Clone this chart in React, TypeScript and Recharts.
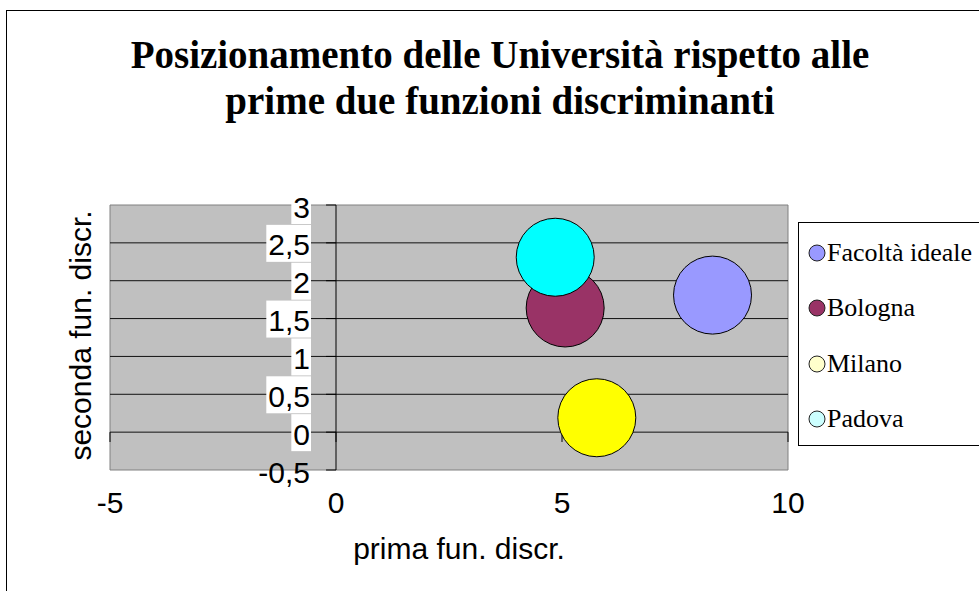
import React from "react";
import {
  ScatterChart,
  Scatter,
  XAxis,
  YAxis,
  ZAxis,
  ReferenceArea,
  ReferenceLine,
  Legend,
} from "recharts";

// series (one bubble each)
const seriesNames = ["Facoltà ideale", "Bologna", "Milano", "Padova"];
const xValues = [8.33, 5.07, 5.77, 4.85];
const yValues = [1.81, 1.64, 0.19, 2.31];
const bubbleSizes = [1, 1, 1, 1];
const bubbleColors = ["#9999FF", "#993366", "#FFFF00", "#00FFFF"];
const legendColors = ["#9999FF", "#993366", "#FFFFCC", "#CCFFFF"];

// axes
const xTicks = [-5, 0, 5, 10];
const yTicks = [-0.5, 0, 0.5, 1, 1.5, 2, 2.5, 3];
const gridValues = [0, 0.5, 1, 1.5, 2, 2.5];

const titleLines = [
  "Posizionamento delle Università rispetto alle",
  "prime due funzioni discriminanti",
];

const SANS = "'Liberation Sans', Arial, sans-serif";
const SERIF = "'Liberation Serif', 'Times New Roman', serif";
const W = 979;
const H = 591;
const BUBBLE_AREA = Math.PI * 39 * 39;
const TICK_X = 0.22; // tick mark length on y axis, data units
const TICK_Y = 0.13; // tick mark length on x axis, data units

const fmt = (v: number) => String(v).replace(".", ",");

const charW: Record<string, number> = { ",": 0.278, "-": 0.333 };
const textWidth = (s: string, size: number) =>
  s.split("").reduce((w, c) => w + (charW[c] ?? 0.556), 0) * size;

const XTick = (props: any) => {
  const { x, payload } = props;
  return (
    <text x={x} y={502} textAnchor="middle" dominantBaseline="central" fontFamily={SANS} fontSize={30} fill="#000">
      {fmt(payload.value)}
    </text>
  );
};

const YTick = (props: any) => {
  const { y, payload } = props;
  const label = fmt(payload.value);
  const right = 310;
  const w = textWidth(label, 30) + 3;
  // the bottom label sits on the plot edge and has no white box
  const boxed = payload.value !== yTicks[0];
  return (
    <g>
      {boxed && <rect x={right + 1 - w} y={y - 18} width={w} height={37} fill="#fff" />}
      <text x={right} y={y + 2} textAnchor="end" dominantBaseline="central" fontFamily={SANS} fontSize={30} fill="#000">
        {label}
      </text>
    </g>
  );
};

const XTitle = (props: any) => {
  const { viewBox } = props;
  return (
    <text x={viewBox.x + viewBox.width / 2 + 10} y={548} textAnchor="middle" dominantBaseline="central" fontFamily={SANS} fontSize={30} fill="#000">
      prima fun. discr.
    </text>
  );
};

const YTitle = (props: any) => {
  const { viewBox } = props;
  const cy = viewBox.y + viewBox.height / 2 - 2;
  return (
    <text x={80} y={cy} transform={`rotate(-90 80 ${cy})`} textAnchor="middle" dominantBaseline="central" fontFamily={SANS} fontSize={30} fill="#000">
      seconda fun. discr.
    </text>
  );
};

const LegendBox = () => (
  <div
    style={{
      width: 200,
      height: 224,
      border: "1px solid #000",
      background: "#fff",
      boxSizing: "border-box",
      paddingTop: 2,
      fontFamily: SERIF,
      fontSize: 26,
      color: "#000",
    }}
  >
    {seriesNames.map((name, i) => (
      <div key={name} style={{ height: 55.5, display: "flex", alignItems: "center", paddingLeft: 9 }}>
        <svg width={18} height={18} style={{ flex: "none" }}>
          <circle cx={9} cy={9} r={8} fill={legendColors[i]} stroke="#222" strokeWidth={1} />
        </svg>
        <span style={{ marginLeft: 1, lineHeight: 1, whiteSpace: "nowrap" }}>{name}</span>
      </div>
    ))}
  </div>
);

export default function App() {
  const series = seriesNames.map((name, i) => ({
    name,
    data: [{ x: xValues[i], y: yValues[i], z: bubbleSizes[i] }],
  }));

  return (
    <div style={{ position: "absolute", left: 0, top: 0, width: W, height: H, overflow: "hidden", background: "#fff" }}>
      <div style={{ position: "absolute", left: 6, top: 10, width: 1100, height: 700, border: "1px solid #000" }} />
      <div
        style={{
          position: "absolute",
          left: 0,
          top: 32,
          width: 1000,
          textAlign: "center",
          fontFamily: SERIF,
          fontWeight: "bold",
          fontSize: 39,
          lineHeight: "46px",
          color: "#000",
        }}
      >
        {titleLines.map((t) => (
          <div key={t}>{t}</div>
        ))}
      </div>
      <div style={{ position: "absolute", left: 0, top: 0 }}>
        <ScatterChart width={W} height={H} margin={{ top: 205, right: 191, bottom: 81, left: 50 }}>
          <ReferenceArea x1={-5} x2={10} y1={-0.5} y2={3} fill="#C0C0C0" fillOpacity={1} stroke="#808080" />
          {gridValues.map((v) => (
            <ReferenceLine key={`g${v}`} y={v} stroke="#111" strokeWidth={1} />
          ))}
          <ReferenceLine x={0} stroke="#000" strokeWidth={1} />
          {xTicks.map((t) => (
            <ReferenceLine key={`xt${t}`} segment={[{ x: t, y: 0 }, { x: t, y: -TICK_Y }]} stroke="#000" />
          ))}
          {yTicks.map((t) => (
            <ReferenceLine key={`yt${t}`} segment={[{ x: -TICK_X, y: t }, { x: 0, y: t }]} stroke="#000" />
          ))}
          <XAxis
            type="number"
            dataKey="x"
            domain={[-5, 10]}
            ticks={xTicks}
            interval={0}
            height={40}
            axisLine={false}
            tickLine={false}
            tick={(p: any) => <XTick {...p} />}
            label={(p: any) => <XTitle {...p} />}
          />
          <YAxis
            type="number"
            dataKey="y"
            domain={[-0.5, 3]}
            ticks={yTicks}
            interval={0}
            width={60}
            axisLine={false}
            tickLine={false}
            tick={(p: any) => <YTick {...p} />}
            label={(p: any) => <YTitle {...p} />}
          />
          <ZAxis type="number" dataKey="z" range={[BUBBLE_AREA, BUBBLE_AREA]} />
          {series.map((s, i) => (
            <Scatter
              key={s.name}
              name={s.name}
              data={s.data}
              fill={bubbleColors[i]}
              stroke="#000"
              strokeWidth={1}
              shape="circle"
              isAnimationActive={false}
            />
          ))}
          <Legend
            layout="vertical"
            align="center"
            verticalAlign="middle"
            wrapperStyle={{ left: 798, top: 222, width: 200, height: 224 }}
            content={<LegendBox />}
          />
        </ScatterChart>
      </div>
    </div>
  );
}
